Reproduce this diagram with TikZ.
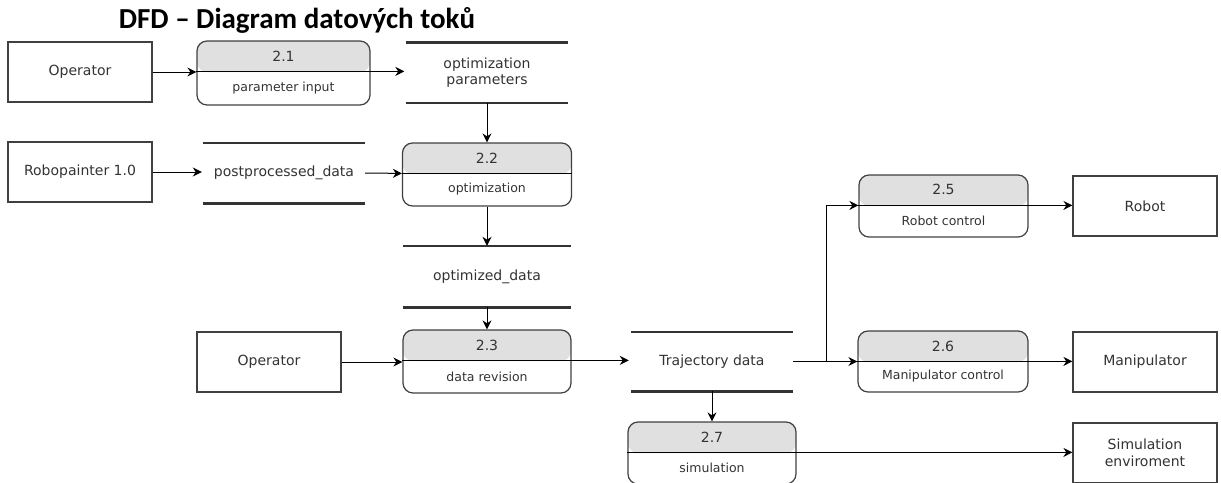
\documentclass[tikz,border=0pt]{standalone}
\usepackage{fontspec}
\setmainfont{DejaVu Sans}
\newfontfamily\titlefont{Carlito}
\usetikzlibrary{arrows.meta,calc}
\definecolor{hdr}{HTML}{E0E0E0}
\definecolor{ink}{HTML}{333333}
\definecolor{edgec}{HTML}{404040}
\tikzset{
  entity/.style={draw=edgec, line width=1.2pt, fill=white, minimum width=144pt, minimum height=60pt,
    inner sep=0pt, text=ink, font=\fontsize{14}{17}\selectfont, align=center},
  proc/.style={draw=edgec, line width=1.2pt, rounded corners=10pt, inner sep=0pt,
    path picture={\fill[hdr] (path picture bounding box.north west) rectangle ([yshift=-31pt]path picture bounding box.north east);}},
  sepline/.style={draw=black, line width=1pt},
  numtxt/.style={text=ink, font=\fontsize{14}{16}\selectfont, inner sep=0pt},
  lbltxt/.style={text=ink, font=\fontsize{12.5}{14}\selectfont, inner sep=0pt},
  store/.style={inner sep=0pt, text=ink, font=\fontsize{14}{16}\selectfont, align=center},
  storeline/.style={draw=ink, line width=2.6pt},
  arr/.style={draw=black, line width=1pt, -{Stealth[length=9pt,width=9pt]}},
}
\newcommand\procbox[7]{%
  \node[proc, minimum width=#4pt, minimum height=#5pt] (#1) at (#2,#3) {};
  \coordinate (#1-l) at ([yshift=-31pt]#1.north west);
  \coordinate (#1-r) at ([yshift=-31pt]#1.north east);
  \draw[sepline] (#1-l) -- (#1-r);
  \node[numtxt] (#1-n) at ([yshift=-15.5pt]#1.north) {#6};
  \node[lbltxt] (#1-t) at ($(#1-l)!0.5!(#1-r) + (0,{(#5-31)/2})$) {#7};
}
\newcommand\storebox[6]{%
  \node[store, minimum width=#4pt, minimum height=#5pt] (#1) at (#2,#3) {#6};
  \draw[storeline] (#1.north west) -- (#1.north east);
  \draw[storeline] (#1.south west) -- (#1.south east);
}
\begin{document}
\begin{tikzpicture}[x=1pt,y=-1pt]
\useasboundingbox (0,0) rectangle (1221,482);
% title
\node[font=\titlefont\bfseries\fontsize{29}{33}\selectfont, anchor=base, inner sep=0pt] (title) at (297,28) {DFD – Diagram datových toků};

% external entities
\node[entity] (op1) at (80,72) {Operator};
\node[entity] (robo) at (80,172) {Robopainter 1.0};
\node[entity] (op2) at (269,362) {Operator};
\node[entity] (robot) at (1145,206) {Robot};
\node[entity] (manip) at (1145,362) {Manipulator};
\node[entity] (sim) at (1145,453) {Simulation\\enviroment};

% processes
\procbox{p21}{283.5}{73}{173}{64}{2.1}{parameter input}
\procbox{p22}{487}{174.5}{169}{63}{2.2}{optimization}
\procbox{p23}{487}{361.5}{168}{63}{2.3}{data revision}
\procbox{p25}{943.5}{206}{169}{62}{2.5}{Robot control}
\procbox{p26}{943}{361.5}{170}{61}{2.6}{Manipulator control}
\procbox{p27}{712}{453}{168}{62}{2.7}{simulation}

% data stores
\storebox{s1}{487}{72.7}{161}{60}{optimization\\parameters}
\storebox{s2}{284}{173}{162}{60}{postprocessed\_data}
\storebox{s3}{487}{276.5}{168}{61}{optimized\_data}
\storebox{s4}{712}{361.5}{162}{59}{Trajectory data}

% flows
\draw[arr] (op1.east) -- (op1.east -| p21-l);
\draw[arr] (p21-r) -- ([xshift=-2pt]p21-r -| s1.west);
\draw[arr] (s1.south) -- (p22.north);
\draw[arr] (robo.east) -- ([xshift=-1pt]robo.east -| s2.west);
\draw[arr] (s2.east) -- (p22-l);
\draw[arr] (p22.south) -- (s3.north);
\draw[arr] (s3.south) -- (p23.north);
\draw[arr] (op2.east) -- (op2.east -| p23-l);
\draw[arr] (p23-r) -- ([xshift=-2pt]p23-r -| s4.west);
\coordinate (j) at (826,361.5);
\draw[arr] (s4.east) -- (j) -- (j -| p26-l);
\draw[arr] (j) |- (p25-l);
\draw[arr] (p25-r) -- (p25-r -| robot.west);
\draw[arr] (p26-r) -- (p26-r -| manip.west);
\draw[arr] (s4.south) -- (p27.north);
\draw[arr] (p27-r) -- (p27-r -| sim.west);
\end{tikzpicture}
\end{document}
